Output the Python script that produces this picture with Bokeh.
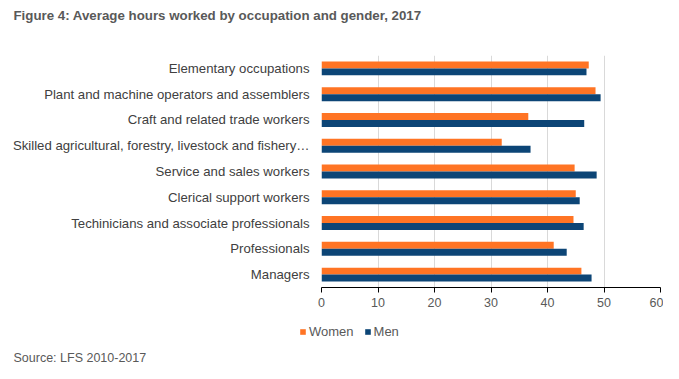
from bokeh.plotting import figure
from bokeh.models import FactorRange, Legend, LegendItem, ColumnDataSource, FixedTicker, Range1d
from bokeh.layouts import column
from bokeh.core.properties import value
from bokeh.transform import dodge
from bokeh.embed import file_html
from bokeh.resources import INLINE

categories = [
    "Elementary occupations",
    "Plant and machine operators and assemblers",
    "Craft and related trade workers",
    "Skilled agricultural, forestry, livestock and fishery…",
    "Service and sales workers",
    "Clerical support workers",
    "Techinicians and associate professionals",
    "Professionals",
    "Managers",
]
women = [47.3, 48.5, 36.6, 31.9, 44.8, 45.0, 44.6, 41.1, 46.0]
men = [46.9, 49.4, 46.5, 37.0, 48.7, 45.7, 46.4, 43.4, 47.8]
x_ticks = [0, 10, 20, 30, 40, 50, 60]
series_names = ["Women", "Men"]

title_text = "Figure 4: Average hours worked by occupation and gender, 2017"
source_text = "Source: LFS 2010-2017"

FONT = "Liberation Sans"
ORANGE = "#FF7424"
NAVY = "#0C4576"
W = 663
TOP_H, MAIN_H, BOT_H = 30, 283, 50


def bare(fig):
    fig.axis.visible = False
    fig.grid.visible = False
    fig.outline_line_color = None
    fig.background_fill_color = "white"
    fig.border_fill_color = "white"
    fig.frame_align = False
    return fig


# --- title strip ---
top = bare(figure(width=W, height=TOP_H, x_range=Range1d(0, W), y_range=Range1d(TOP_H, 0),
                  output_backend="svg", toolbar_location=None,
                  min_border=0, min_border_left=0, min_border_right=0,
                  min_border_top=0, min_border_bottom=0))
top.text(x=[13], y=[15], text=[title_text], text_font=value(FONT), text_font_size="13.3px",
         text_font_style="bold", text_color="#595959", text_baseline="middle", text_align="left")

# --- main chart ---
src = ColumnDataSource(dict(cat=categories, women=women, men=men))
p = figure(
    width=W, height=MAIN_H,
    y_range=FactorRange(*list(reversed(categories)), range_padding=0.0),
    x_range=(0, 60),
    output_backend="svg", toolbar_location=None,
    min_border_left=321, min_border_right=3, min_border_top=25, min_border_bottom=26,
)
p.frame_align = False
p.y_range.factor_padding = 0.0

p.hbar(y=dodge("cat", 0.135, range=p.y_range), right="women", left=0, height=0.27,
       source=src, color=ORANGE, line_color=None)
p.hbar(y=dodge("cat", -0.135, range=p.y_range), right="men", left=0, height=0.27,
       source=src, color=NAVY, line_color=None)

p.outline_line_color = None
p.background_fill_color = "white"
p.border_fill_color = "white"

p.xaxis.ticker = FixedTicker(ticks=x_ticks)
p.xaxis.axis_line_color = "black"
p.xaxis.axis_line_width = 1
p.xaxis.major_tick_line_color = "black"
p.xaxis.major_tick_in = 0
p.xaxis.major_tick_out = 5
p.xaxis.minor_tick_line_color = None
p.xaxis.major_label_text_font = FONT
p.xaxis.major_label_text_font_size = "12.5px"
p.xaxis.major_label_text_color = "#595959"
p.xaxis.major_label_standoff = 5

p.yaxis.axis_line_color = None
p.yaxis.major_tick_line_color = None
p.yaxis.minor_tick_line_color = None
p.yaxis.major_tick_out = 0
p.yaxis.major_tick_in = 0
p.yaxis.major_label_text_font = FONT
p.yaxis.major_label_text_font_size = "13.2px"
p.yaxis.major_label_text_color = "#404040"
p.yaxis.major_label_standoff = 12

p.ygrid.grid_line_color = None
p.xgrid.grid_line_color = "#D9D9D9"
p.xgrid.grid_line_width = 1

# --- legend + source strip ---
bot = bare(figure(width=W, height=BOT_H, x_range=Range1d(0, W), y_range=Range1d(0, BOT_H),
                  output_backend="svg", toolbar_location=None,
                  min_border=0, min_border_left=0, min_border_right=0,
                  min_border_top=0, min_border_bottom=0))
# legend proxies: one off-screen bar each, only used to draw the legend swatches
proxy = ColumnDataSource(dict(y=[-1000], right=[1]))
lw = bot.hbar(y="y", right="right", height=1, source=proxy, fill_color=ORANGE, line_color=None)
lm = bot.hbar(y="y", right="right", height=1, source=proxy, fill_color=NAVY, line_color=None)
legend = Legend(
    items=[LegendItem(label=series_names[0], renderers=[lw]),
           LegendItem(label=series_names[1], renderers=[lm])],
    orientation="horizontal", location=(299, 24),
    border_line_color=None, background_fill_alpha=0,
    label_text_font=FONT, label_text_font_size="13px", label_text_color="#595959",
    glyph_width=7, glyph_height=7, spacing=10, label_standoff=3, padding=0, margin=0,
    label_height=14,
)
bot.add_layout(legend, "center")
bot.text(x=[13], y=[6], text=[source_text], text_font=value(FONT), text_font_size="12.5px",
         text_color="#595959", text_baseline="middle", text_align="left")

layout = column(top, p, bot, spacing=0)
open("out.html", "w").write(file_html(layout, INLINE))
